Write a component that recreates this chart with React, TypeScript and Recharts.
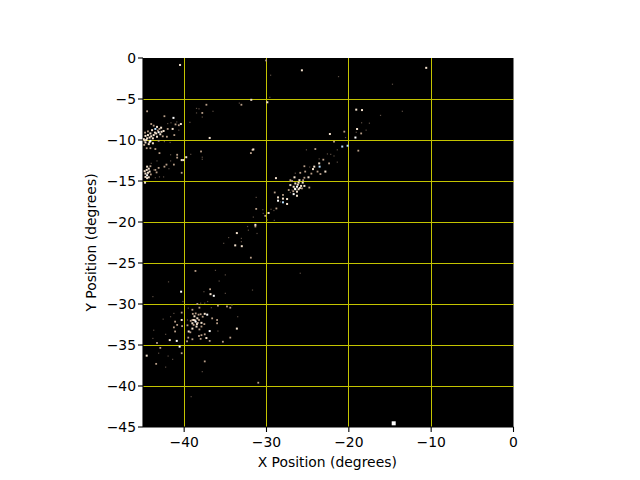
import { CartesianGrid, Label, ReferenceLine, Scatter, ScatterChart, XAxis, YAxis } from 'recharts'

const X_TICKS = [-40, -30, -20, -10, 0]
const Y_TICKS = [0, -5, -10, -15, -20, -25, -30, -35, -40, -45]
const X_GRID = [-40, -30, -20, -10]
const Y_GRID = [-5, -10, -15, -20, -25, -30, -35, -40]

type Pt = [number, number]

// Star positions, grouped by how bright they look.
const LARGEST: Pt[] = [[-14.55, -44.55]]

const BRIGHT: Pt[] = [
  [-41.3, -7.3], [-43.1, -9.05], [-44.1, -10.1], [-44.5, -14.3], [-26.3, -15.7],
  [-26.5, -16], [-26.7, -16.6], [-28.6, -17.4], [-19.2, -9.7], [-40.37, -28.5],
  [-36.4, -29], [-37.2, -31.3], [-36.9, -33.3], [-40.9, -34.5], [-40.55, -35.2],
  [-38.6, -32.15],
]

const PALE: Pt[] = [
  [-40.5, -0.85], [-25.7, -1.5], [-31.85, -5.1], [-29.9, -5.4], [-40.4, -8.05],
  [-41.4, -8.65], [-36.9, -9.75], [-43.3, -8.4], [-42.8, -8.5], [-42.5, -8.9],
  [-42.9, -9.3], [-43.4, -9.2], [-43.9, -8.8], [-44.1, -9.2], [-44.4, -9.4],
  [-44.7, -9.5], [-44.2, -9.7], [-43.8, -9.8], [-43.3, -9.6], [-44.7, -10.3],
  [-44.3, -10.5], [-43.8, -10.4], [-40.3, -12.45], [-40.1, -12.45], [-39.75, -12.1],
  [-44.5, -13.25], [-44.3, -13.5], [-44.55, -13.65], [-44.7, -14.1], [-44.2, -13.85],
  [-44.7, -14.5], [-44.3, -14.55], [-44.75, -15.2], [-19, -8.66], [-22.3, -9.27],
  [-23.6, -12.85], [-24.2, -13.25], [-24.35, -13.55], [-22.85, -13.85], [-24.9, -14.55],
  [-26.6, -14.55], [-26, -14.9], [-28.85, -14.65], [-26.5, -15.3], [-26.1, -15.2],
  [-25.6, -15.2], [-27.1, -15.5], [-26.7, -15.7], [-25.8, -15.6], [-25.4, -15.6],
  [-26.1, -16], [-26.3, -16.3], [-26.3, -16.8], [-28.6, -17], [-27.5, -17.2],
  [-27.5, -17.8], [-28, -17.15], [-29.75, -18.9], [-31.35, -20.35], [-33.6, -21.35],
  [-33.8, -22.85], [-33, -22.95], [-36.8, -28.8], [-37.5, -31.2], [-33.6, -33],
  [-37.3, -34.15], [-40.3, -31.95], [-41.75, -34.4], [-44.55, -36.3], [-38.4, -31.75],
  [-38.85, -31.95], [-39, -32.35], [-37.9, -32.3], [-38.5, -32.75], [-39, -33],
  [-39.45, -33.35], [-10.6, -1.2], [-19.1, -6.3], [-18.4, -6.35], [-31.6, -11.15],
  [-43.7, -9.4], [-44.6, -10], [-44.4, -14], [-44.9, -9.9], [-44.5, -9.8],
  [-44, -9.55], [-43.55, -9.1], [-44.2, -10.25], [-44.8, -10.05], [-42.75, -9],
  [-44.5, -14.65], [-44.8, -13.8], [-26.2, -15.45], [-26.55, -15.95], [-25.95, -15.85],
  [-38.7, -32], [-38.45, -32.45], [-38.75, -31.5],
]

const TAN: Pt[] = [
  [-30.05, -0.3], [-33.05, -5.7], [-37.3, -5.7], [-37.8, -6.7], [-44.5, -6.5],
  [-42.4, -7.1], [-40.65, -8.2], [-41.05, -8.1], [-41.2, -9.4], [-42, -8.65],
  [-42.1, -9.6], [-44, -8.05], [-43.7, -8.25], [-44.1, -11], [-43.5, -11.1],
  [-43, -11.6], [-40.85, -11.8], [-40.85, -12.15], [-37.95, -11.4], [-31.7, -11.2],
  [-31.9, -11.6], [-41.25, -13], [-42.15, -13], [-42.4, -13.25], [-43.1, -13.4],
  [-43.5, -13.65], [-43.35, -13.95], [-40.3, -14], [-18.5, -9.2], [-20.55, -8.98],
  [-21.8, -10.2], [-18.85, -11.3], [-24.07, -11.1], [-23.1, -12.4], [-22.4, -12.85],
  [-25.4, -13.2], [-23.8, -13.85], [-23.45, -14.15], [-25.3, -13.85], [-25.9, -14],
  [-25.4, -14.6], [-27.1, -14.9], [-24.8, -15.8], [-25.7, -15.9], [-29, -16.4],
  [-28, -16.7], [-31.25, -18.4], [-28.8, -18.35], [-30.15, -19.25], [-31.35, -20.55],
  [-31.9, -24.35], [-38.63, -25.97], [-36.85, -28.2], [-38.4, -30], [-35.9, -30.2],
  [-34.8, -30.3], [-34.4, -30.45], [-39, -30.7], [-38.15, -30.45], [-40.3, -31.05],
  [-36.6, -31.75], [-36, -31.95], [-36, -32.35], [-34.4, -34.1], [-35.3, -34.6],
  [-36.9, -34.5], [-37.9, -33.8], [-37.5, -33.7], [-38.2, -33.9], [-38, -34.25],
  [-39, -34.3], [-39.65, -34.55], [-39.5, -34.1], [-40.25, -32.7], [-41.1, -32.15],
  [-40.85, -32.55], [-41.25, -32.85], [-41.1, -33.35], [-43.3, -34.75], [-42.9, -35.35],
  [-40.3, -36], [-43.4, -37.3], [-37.5, -37], [-31, -39.6], [-38.6, -31.15],
  [-38, -31.25], [-37.75, -31.55], [-38.35, -32.3], [-38.85, -32.55], [-37.9, -32.75],
  [-39.25, -33.45], [-38.2, -31.95], [-39, -31.95], [-43.2, -8.85], [-43, -8.65],
  [-44.4, -8.95], [-44.75, -9.1], [-43.1, -10.1], [-42.6, -9.55], [-44.85, -10.6],
  [-44.55, -11], [-44.1, -13.2], [-44.05, -14.2], [-26.9, -15], [-26.75, -16.25],
  [-25.55, -14.9], [-24.55, -14.1], [-27.3, -16.1], [-38.25, -31.3], [-38.95, -31.2],
  [-39.6, -32.6], [-38.15, -33.1], [-37.55, -32.45], [-39.2, -32.05],
]

const DIM: Pt[] = [
  [-29.5, -2.1], [-29.6, -4.8], [-33.3, -5.5], [-38.5, -6.15], [-38.2, -6.2],
  [-38.5, -6.7], [-37.8, -7.2], [-36.5, -6.5], [-39.3, -7.85], [-42, -8], [-41.6, -7.9],
  [-40.9, -7.8], [-40.65, -8.8], [-41.7, -10.3], [-42.4, -10.2], [-41.65, -11.8],
  [-39.2, -11.75], [-37.8, -12.1], [-37.8, -12.35], [-31.85, -11.6], [-41.65, -12.55],
  [-43.3, -12.55], [-44, -12.85], [-42.5, -14.5], [-43, -14.5], [-43.5, -14.6],
  [-41.85, -13.5], [-43.7, -13.65], [-18.45, -7.9], [-17.5, -7.95], [-19.1, -9.06],
  [-17.9, -8.8], [-20.4, -9.7], [-25.15, -11.2], [-21.4, -11.2], [-22.6, -11.7],
  [-22.2, -11.75], [-21.8, -11.95], [-21.4, -12.7], [-23.6, -12.3], [-24.75, -13.3],
  [-26.5, -14.05], [-26.9, -16.1], [-27.1, -16.4], [-28.3, -17.55], [-30.45, -18.5],
  [-29.45, -18.45], [-29.1, -18.6], [-30.4, -18.95], [-31.6, -19.4], [-29.9, -19.75],
  [-29.05, -19.8], [-32.3, -20.55], [-32.2, -21], [-31.15, -21.4], [-31.25, -17],
  [-34.6, -21.9], [-33.05, -22], [-33.05, -22.4], [-35.2, -22.6], [-36.2, -25.9],
  [-43.8, -29.1], [-41.9, -27.3], [-37.6, -28.5], [-35.75, -27.2], [-35, -26.45],
  [-35, -28.7], [-31.7, -28.3], [-25.9, -26.25], [-40.15, -29.7], [-38, -29.9],
  [-37.5, -29.9], [-37.15, -29.7], [-34.2, -30.15], [-39.5, -30.5], [-36.7, -30.45],
  [-33.5, -31.55], [-35.9, -33.3], [-42.25, -33.7], [-43.7, -33.2], [-43.8, -34.2],
  [-42.55, -31.85], [-41.65, -31.55], [-41.25, -31.15], [-41.95, -36.35], [-41.4, -36.75],
  [-43.1, -36], [-42.25, -37.7], [-37.8, -38.25], [-39.15, -41.3], [-39.6, -31.95],
  [-21.25, -2.27], [-14.7, -3.2], [-13.5, -6.5], [-16.15, -7],
]

const BLUE: Pt[] = [
  [-43.5, -8.65], [-20.8, -10.8], [-20.15, -10.7], [-23.55, -13.25], [-28, -17.6],
]

const toRows = (pts: Pt[]) => pts.map(([x, y]) => ({ x, y }))
const minus = (v: number) => String(v).replace('-', '\u2212')

function star(color: string, size: number) {
  return ({ cx, cy }: { cx?: number; cy?: number }) => (
    <rect x={(cx ?? 0) - size / 2} y={(cy ?? 0) - size / 2} width={size} height={size} fill={color} />
  )
}

const GRID_COLOR = '#c4c400'
const TICK = { fontSize: 13.9, fill: '#000', fontFamily: 'DejaVu Sans' }
const AXIS = { stroke: '#000', strokeWidth: 1.1 }
const TICK_LINE = { stroke: '#000', strokeWidth: 1.1 }

export default function App() {
  return (
    <div style={{ position: 'absolute', left: 0, top: 0, width: 640, height: 480, background: '#fff' }}>
      <ScatterChart width={640} height={480} margin={{ top: 58, right: 126.5, bottom: 13, left: 83 }}>
        <CartesianGrid fill="#000" horizontal={false} vertical={false} />
        <XAxis
          type="number"
          dataKey="x"
          domain={[-45, 0]}
          ticks={X_TICKS}
          tickFormatter={minus}
          interval={0}
          height={40}
          tick={TICK}
          axisLine={AXIS}
          tickLine={TICK_LINE}
          tickSize={5}
          tickMargin={5}
          allowDataOverflow
        >
          <Label value="X Position (degrees)" position="insideBottom" offset={0} dx={-1} style={{ ...TICK, textAnchor: 'middle' }} />
        </XAxis>
        <YAxis
          type="number"
          dataKey="y"
          domain={[-45, 0]}
          ticks={Y_TICKS}
          tickFormatter={minus}
          interval={0}
          width={60}
          tick={TICK}
          axisLine={AXIS}
          tickLine={TICK_LINE}
          tickSize={5}
          allowDataOverflow
        >
          <Label value="Y Position (degrees)" angle={-90} position="insideLeft" offset={8} style={{ ...TICK, textAnchor: 'middle' }} />
        </YAxis>
        <Scatter data={toRows(DIM)} shape={star('#5a4c42', 1.2)} isAnimationActive={false} />
        <Scatter data={toRows(TAN)} shape={star('#b89e88', 1.8)} isAnimationActive={false} />
        <Scatter data={toRows(PALE)} shape={star('#f2e0cc', 2)} isAnimationActive={false} />
        <Scatter data={toRows(BLUE)} shape={star('#b8e0ff', 2)} isAnimationActive={false} />
        <Scatter data={toRows(BRIGHT)} shape={star('#ffffff', 2)} isAnimationActive={false} />
        <Scatter data={toRows(LARGEST)} shape={star('#ffffff', 4)} isAnimationActive={false} />
        {X_GRID.map((v) => (
          <ReferenceLine key={'x' + v} x={v} stroke={GRID_COLOR} strokeWidth={1} shapeRendering="crispEdges" />
        ))}
        {Y_GRID.map((v) => (
          <ReferenceLine key={'y' + v} y={v} stroke={GRID_COLOR} strokeWidth={1} shapeRendering="crispEdges" />
        ))}
      </ScatterChart>
    </div>
  )
}
